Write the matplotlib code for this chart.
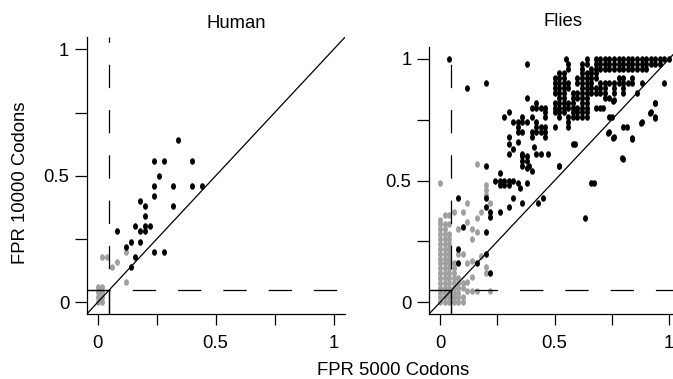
import matplotlib
matplotlib.use('Agg')
import matplotlib.pyplot as plt
from matplotlib.path import Path
import numpy as np

plt.rcParams['font.family'] = ['Liberation Sans', 'DejaVu Sans']
plt.rcParams['lines.scale_dashes'] = False

# ---------------- data ----------------
titles = ['Human', 'Flies']
xlabel = 'FPR 5000 Codons'
ylabel = 'FPR 10000 Codons'
tick_values = [0, 0.25, 0.5, 0.75, 1]
tick_labels = ['0', '', '0.5', '', '1']
threshold = 0.05

human_black_x = [0.34, 0.24, 0.28, 0.40, 0.26, 0.24, 0.32, 0.40, 0.44, 0.24, 0.18, 0.20, 0.32, 0.20,
                 0.16, 0.20, 0.22, 0.18, 0.20, 0.08, 0.14, 0.18, 0.12, 0.16, 0.24, 0.28, 0.14]
human_black_y = [0.64, 0.56, 0.56, 0.56, 0.50, 0.46, 0.46, 0.46, 0.46, 0.42, 0.40, 0.38, 0.38, 0.34,
                 0.30, 0.30, 0.30, 0.28, 0.28, 0.28, 0.24, 0.24, 0.22, 0.18, 0.20, 0.20, 0.14]
human_gray_x = [0, 0, 0, 0, 0.01, 0.01, 0.01, 0.02, 0.02, 0.02, 0.02, 0.02, 0.04, 0.06, 0.08, 0.12, 0.12]
human_gray_y = [0, 0.02, 0.04, 0.06, 0.01, 0.03, 0.05, 0, 0.02, 0.04, 0.06, 0.18, 0.18, 0.14, 0.16, 0.20, 0.08]

fly_black_x = [
    0.04, 0.12, 0.20, 0.38, 0.38,
    0.08, 0.10, 0.08, 0.08, 0.20, 0.20, 0.20, 0.20, 0.16, 0.22, 0.22, 0.22, 0.26, 0.30, 0.32, 0.36, 0.43, 0.45,
    0.20, 0.26, 0.24, 0.26, 0.26, 0.28, 0.28, 0.30, 0.30, 0.32, 0.34, 0.35, 0.38,
    0.30, 0.30, 0.32, 0.34, 0.36, 0.36, 0.36, 0.36, 0.38, 0.38, 0.38, 0.40, 0.39, 0.41, 0.42, 0.44, 0.47,
    0.28, 0.30, 0.32, 0.34, 0.36, 0.36, 0.38, 0.40, 0.40, 0.42, 0.42, 0.44, 0.46, 0.46, 0.46,
    0.42, 0.42, 0.42, 0.44, 0.44, 0.46, 0.46, 0.46, 0.34, 0.34, 0.36, 0.30, 0.40, 0.40,
    0.50, 0.50, 0.50, 0.50, 0.50, 0.50, 0.50, 0.50,
    0.52, 0.52, 0.52, 0.52, 0.52, 0.52, 0.52, 0.52, 0.52, 0.52, 0.52,
    0.54, 0.54, 0.54, 0.54, 0.54, 0.54, 0.54, 0.54, 0.54,
    0.55, 0.56, 0.56, 0.56, 0.56, 0.56, 0.56, 0.56, 0.56, 0.56,
    0.58, 0.58, 0.58, 0.58, 0.58, 0.58, 0.58,
    0.60, 0.60, 0.60, 0.60, 0.60, 0.60, 0.60,
    0.62, 0.62, 0.62, 0.62, 0.62, 0.62, 0.62, 0.62, 0.62, 0.62, 0.62, 0.62,
    0.64, 0.64, 0.64, 0.64, 0.64, 0.64, 0.64, 0.64, 0.64, 0.64, 0.64, 0.64,
    0.66, 0.66, 0.66, 0.66, 0.66, 0.66, 0.66,
    0.68, 0.68, 0.68, 0.68, 0.68, 0.68, 0.68, 0.68,
    0.70, 0.70, 0.70, 0.70, 0.70, 0.70, 0.70,
    0.72, 0.72, 0.72, 0.72, 0.72, 0.72, 0.72,
    0.74, 0.74, 0.74, 0.74, 0.74, 0.74, 0.74,
    0.76, 0.76, 0.76, 0.76, 0.76, 0.76, 0.76, 0.76,
    0.78, 0.78, 0.78, 0.78, 0.78,
    0.80, 0.80, 0.80, 0.80, 0.80, 0.80, 0.80, 0.80, 0.80,
    0.82, 0.82, 0.82, 0.82,
    0.84, 0.84, 0.84, 0.84, 0.84, 0.84,
    0.86, 0.86, 0.86, 0.86,
    0.88, 0.88, 0.88, 0.88, 0.88,
    0.90, 0.90, 0.90,
    0.92, 0.92, 0.92,
    0.94, 0.94, 0.94, 0.94,
    0.96, 0.96,
    0.98, 0.98,
    1.00,
    0.75, 0.735, 0.755, 0.815, 0.837, 0.793, 0.878, 0.917, 0.939, 0.939, 0.674, 0.633, 0.59, 0.52, 0.71, 0.757,
]
fly_black_y = [
    1.00, 0.88, 0.90, 0.98, 0.84,
    0.43, 0.31, 0.22, 0.16, 0.43, 0.39, 0.29, 0.20, 0.16, 0.12, 0.37, 0.35, 0.37, 0.39, 0.43, 0.41, 0.41, 0.43,
    0.56, 0.53, 0.50, 0.50, 0.48, 0.50, 0.48, 0.50, 0.48, 0.50, 0.49, 0.47, 0.49,
    0.65, 0.61, 0.63, 0.66, 0.61, 0.60, 0.58, 0.56, 0.60, 0.58, 0.55, 0.54, 0.56, 0.64, 0.61, 0.61, 0.61,
    0.76, 0.78, 0.74, 0.74, 0.76, 0.74, 0.74, 0.76, 0.80, 0.82, 0.80, 0.80, 0.80, 0.78, 0.76,
    0.74, 0.72, 0.70, 0.72, 0.70, 0.72, 0.70, 0.68, 0.72, 0.70, 0.70, 0.68, 0.70, 0.68,
    0.92, 0.90, 0.88, 0.86, 0.82, 0.80, 0.78, 0.72,
    0.94, 0.92, 0.90, 0.88, 0.86, 0.84, 0.82, 0.80, 0.78, 0.76, 0.56,
    0.94, 0.92, 0.90, 0.88, 0.86, 0.84, 0.82, 0.80, 0.78,
    1.00, 0.98, 0.96, 0.90, 0.88, 0.82, 0.80, 0.76, 0.74, 0.72,
    0.86, 0.84, 0.82, 0.80, 0.78, 0.76, 0.65,
    0.92, 0.90, 0.86, 0.84, 0.80, 0.78, 0.76,
    0.98, 0.96, 0.94, 0.92, 0.90, 0.88, 0.86, 0.84, 0.82, 0.80, 0.78, 0.76,
    1.00, 0.98, 0.94, 0.92, 0.90, 0.88, 0.86, 0.84, 0.82, 0.80, 0.78, 0.76,
    0.96, 0.94, 0.92, 0.90, 0.88, 0.86, 0.49,
    1.00, 0.98, 0.96, 0.94, 0.92, 0.88, 0.86, 0.80,
    1.00, 0.98, 0.96, 0.90, 0.88, 0.86, 0.80,
    1.00, 0.98, 0.96, 0.90, 0.88, 0.86, 0.84,
    1.00, 0.98, 0.96, 0.90, 0.84, 0.70, 0.76,
    1.00, 0.98, 0.96, 0.90, 0.88, 0.86, 0.68, 0.83,
    1.00, 0.98, 0.96, 0.92, 0.90,
    1.00, 0.98, 0.96, 0.92, 0.90, 0.88, 0.86, 0.72, 0.59,
    1.00, 0.98, 0.96, 0.90,
    1.00, 0.98, 0.96, 0.92, 0.90, 0.67,
    1.00, 0.98, 0.96, 0.86,
    1.00, 0.98, 0.96, 0.74, 0.90,
    1.00, 0.98, 0.96,
    1.00, 0.98, 0.78,
    1.00, 0.98, 0.82, 0.76,
    1.00, 0.98,
    1.00, 0.90,
    1.00,
    0.76, 0.695, 0.675, 0.72, 0.675, 0.593, 0.737, 0.778, 0.819, 0.757, 0.492, 0.346, 0.65, 0.56, 0.80, 0.826,
]

fly_gray_x = [
    0, 0, 0, 0, 0, 0, 0, 0, 0, 0, 0, 0, 0, 0, 0, 0, 0, 0, 0,
    0.02, 0.02, 0.02, 0.02, 0.02, 0.02, 0.02, 0.02, 0.02, 0.02, 0.02, 0.02, 0.02, 0.02, 0.02, 0.02, 0.02, 0.02,
    0.04, 0.04, 0.04, 0.04, 0.04, 0.04, 0.04, 0.04, 0.04, 0.04, 0.04, 0.04, 0.04, 0.04, 0.04, 0.04, 0.04,
    0.06, 0.06, 0.06, 0.06, 0.06, 0.06, 0.06, 0.06, 0.06, 0.06,
    0.08, 0.08, 0.08, 0.08, 0.08, 0.08, 0.08, 0.08,
    0.10, 0.10, 0.10, 0.10, 0.10, 0.10,
    0.12, 0.12, 0.12, 0.12, 0.12,
    0.14, 0.14, 0.14, 0.14, 0.14,
    0.16, 0.16, 0.16, 0.16,
    0.18, 0.18,
    0.20, 0.20, 0.20, 0.20, 0.20,
    0.22, 0.22,
]
fly_gray_y = [
    0, 0.02, 0.04, 0.06, 0.08, 0.10, 0.12, 0.14, 0.16, 0.18, 0.20, 0.22, 0.24, 0.26, 0.28, 0.30, 0.32, 0.34, 0.49,
    0, 0.02, 0.04, 0.06, 0.08, 0.10, 0.12, 0.14, 0.16, 0.18, 0.20, 0.22, 0.24, 0.26, 0.28, 0.30, 0.32, 0.36,
    0, 0.02, 0.04, 0.06, 0.08, 0.10, 0.12, 0.14, 0.16, 0.18, 0.20, 0.22, 0.24, 0.26, 0.28, 0.32, 0.36,
    0, 0.02, 0.04, 0.06, 0.08, 0.10, 0.12, 0.14, 0.16, 0.37,
    0, 0.02, 0.04, 0.06, 0.08, 0.10, 0.20, 0.30,
    0, 0.02, 0.06, 0.08, 0.20, 0.37,
    0.045, 0.085, 0.16, 0.33, 0.41,
    0.045, 0.105, 0.17, 0.26, 0.30,
    0.045, 0.29, 0.345, 0.57,
    0.37, 0.19,
    0.12, 0.145, 0.44, 0.46, 0.48,
    0.045, 0.41,
]

# ---------------- figure ----------------
W, H = 673, 379
fig = plt.figure(figsize=(W / 100, H / 100), dpi=100)


def add_ax(l, r, t, b):
    return fig.add_axes([l / W, 1 - b / H, (r - l) / W, (b - t) / H])


uc = Path.unit_circle()
ellipse = Path(uc.vertices * np.array([0.76, 1.0]), uc.codes)

FS = 13.3
GRAY = '#a0a0a0'
LW = 0.9
MS = 4.7


def style(ax, xlim, ylim):
    ax.set_xlim(xlim)
    ax.set_ylim(ylim)
    for s in ['top', 'right']:
        ax.spines[s].set_visible(False)
    for s in ['left', 'bottom']:
        ax.spines[s].set_linewidth(LW)
    ax.set_xticks(tick_values)
    ax.set_xticklabels(tick_labels)
    ax.set_yticks(tick_values)
    ax.set_yticklabels(tick_labels)
    ax.tick_params(axis='x', length=7.6, width=LW, pad=7, labelsize=FS)
    ax.tick_params(axis='y', length=8.6, width=LW, pad=4, labelsize=FS)
    ax.axline((0, 0), (1, 1), color='k', lw=LW)
    dash = (0, (16.8, 15.8))
    ax.plot(xlim, [threshold, threshold], color='k', lw=LW, linestyle=dash, zorder=3)
    ax.plot([threshold, threshold], ylim, color='k', lw=LW, linestyle=dash, zorder=3)
    ax.plot([xlim[0], threshold, threshold], [threshold, threshold, ylim[0]],
            color='k', lw=LW, zorder=3)


axL = add_ax(86.7, 345, 36.7, 314.3)
axR = add_ax(429, 680.5, 46.7, 314.3)

for ax, gx, gy, bx, by, xl, yl in [
    (axL, human_gray_x, human_gray_y, human_black_x, human_black_y, (-0.0466, 1.048), (-0.0474, 1.0498)),
    (axR, fly_gray_x, fly_gray_y, fly_black_x, fly_black_y, (-0.048, 1.05), (-0.049, 1.05)),
]:
    ax.plot(gx, gy, linestyle='none', marker=ellipse, markersize=MS, color=GRAY, mew=0, zorder=2)
    ax.plot(bx, by, linestyle='none', marker=ellipse, markersize=MS, color='k', mew=0, zorder=2)
    style(ax, xl, yl)

fig.text(235.8 / W, 1 - 28.3 / H, titles[0], ha='center', va='baseline', fontsize=FS)
fig.text(563.3 / W, 1 - 26 / H, titles[1], ha='center', va='baseline', fontsize=FS)
fig.text(21 / W, 1 - 182.5 / H, ylabel, rotation=90, ha='center', va='center', fontsize=FS)
fig.text(393 / W, 1 - 375 / H, xlabel, ha='center', va='baseline', fontsize=FS)

fig.savefig('out.png', dpi=100)
